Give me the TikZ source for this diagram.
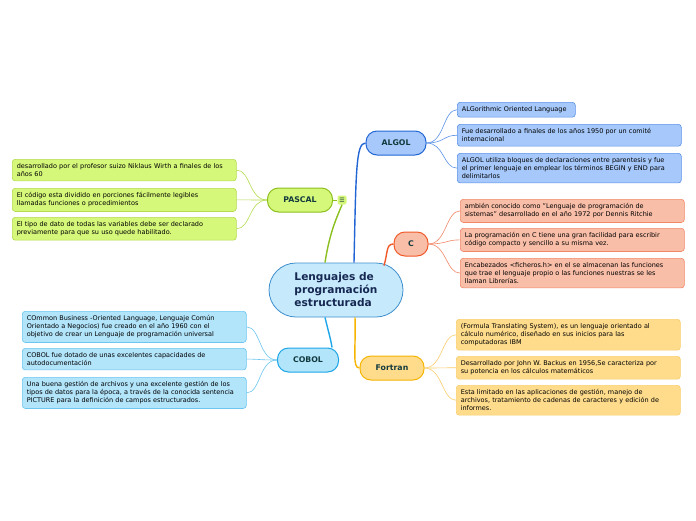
\documentclass[tikz,border=0pt]{standalone}
\usepackage{fontspec}
\setmainfont{DejaVu Sans}
\usetikzlibrary{positioning, calc}
\definecolor{CentroFondo}{RGB}{198,234,252}
\definecolor{CentroBorde}{RGB}{62,142,204}
\definecolor{TextoCentro}{RGB}{22,40,82}
\definecolor{TextoTema}{RGB}{18,58,62}
\definecolor{AlgolBorde}{RGB}{34,102,214}
\definecolor{AlgolFondo}{RGB}{166,200,250}
\definecolor{AlgolHoja}{RGB}{92,146,232}
\definecolor{CBorde}{RGB}{240,90,40}
\definecolor{CFondo}{RGB}{249,190,168}
\definecolor{CHoja}{RGB}{242,136,104}
\definecolor{FortranBorde}{RGB}{246,180,0}
\definecolor{FortranFondo}{RGB}{254,220,140}
\definecolor{FortranHoja}{RGB}{250,206,110}
\definecolor{PascalBorde}{RGB}{140,192,30}
\definecolor{PascalFondo}{RGB}{213,247,122}
\definecolor{PascalHoja}{RGB}{180,220,80}
\definecolor{CobolBorde}{RGB}{28,166,232}
\definecolor{CobolFondo}{RGB}{178,228,250}
\definecolor{CobolHoja}{RGB}{108,198,240}

\begin{document}
\begin{tikzpicture}[x=1pt, y=-1pt, font=\fontsize{6.5}{8}\selectfont,
  tema/.style 2 args={rectangle, rounded corners=11pt, draw=#1, fill=#2, line width=1pt, minimum height=24pt, font=\fontsize{7.8}{9}\selectfont\bfseries, text=TextoTema},
  hoja/.style 2 args={rectangle, rounded corners=3pt, draw=#1, fill=#2, line width=0.6pt, anchor=north west, text width=215pt, align=left, inner xsep=4.5pt, inner ysep=4.3pt},
  rama/.style={line width=1.4pt, draw=#1},
  enlace/.style={line width=0.6pt, draw=#1}]
  \useasboundingbox[fill=white] (0,0) rectangle (696,520);

  % tema central
  \node[rectangle, rounded corners=27pt, draw=CentroBorde, fill=CentroFondo, line width=0.8pt, minimum width=134pt, minimum height=54pt, align=left, text=TextoCentro, font=\fontsize{10.6}{13}\selectfont\bfseries] (centro) at (336,290) {Lenguajes de\\programación\\estructurada};

  % temas principales
  \node[tema={AlgolBorde}{AlgolFondo}, minimum width=60pt] (algol) at (396,143) {ALGOL};
  \node[tema={CBorde}{CFondo}, minimum width=34pt] (c) at (411,244) {C};
  \node[tema={FortranBorde}{FortranFondo}, minimum width=64pt] (fortran) at (392,368) {Fortran};
  \node[tema={PascalBorde}{PascalFondo}, minimum width=65pt] (pascal) at (300,200) {PASCAL};
  \node[tema={CobolBorde}{CobolFondo}, minimum width=61pt] (cobol) at (308,360) {COBOL};
  \node[rectangle, rounded corners=2pt, fill=PascalFondo, minimum size=9pt, inner sep=0pt, text=TextoTema, font=\fontsize{6}{6}\selectfont] (menu) at (342,200) {☰};

  \draw[rama=AlgolBorde] ($(centro.north)+(18,0)$) .. controls (356,170) and (356,143) .. (algol.west);
  \draw[rama=CBorde] ($(centro.north)+(48,3)$) .. controls (388,252) and (386,244) .. (c.west);
  \draw[rama=FortranBorde] ($(centro.south)+(19,0)$) .. controls (356,350) and (352,368) .. (fortran.west);
  \draw[rama=PascalBorde] ($(centro.north)+(-11,0)$) .. controls (330,230) and (338,215) .. (menu.south);
  \draw[rama=CobolBorde] ($(centro.south)+(-11,0)$) .. controls (328,330) and (331,340) .. ($(cobol.north)+(24,0)$);
  \draw[enlace=PascalBorde] (pascal.east) -- (menu.west);

  % ALGOL
  \node[hoja={AlgolHoja}{AlgolFondo}, text width=109pt] (a1) at (457,102) {ALGorithmic Oriented Language};
  \node[hoja={AlgolHoja}{AlgolFondo}] (a2) at (457,124) {Fue desarrollado a finales de los años 1950 por un comité\\internacional};
  \node[hoja={AlgolHoja}{AlgolFondo}] (a3) at (457,153) {ALGOL utiliza bloques de declaraciones entre parentesis y fue\\el primer lenguaje en emplear los términos BEGIN y END para\\delimitarlos};

  % C
  \node[hoja={CHoja}{CFondo}] (c1) at (460,199) {ambién conocido como "Lenguaje de programación de\\sistemas" desarrollado en el año 1972 por Dennis Ritchie};
  \node[hoja={CHoja}{CFondo}] (c2) at (460,228) {La programación en C tiene una gran facilidad para escribir\\código compacto y sencillo a su misma vez.};
  \node[hoja={CHoja}{CFondo}] (c3) at (460,258) {Encabezados <ficheros.h> en el se almacenan las funciones\\que trae el lenguaje propio o las funciones nuestras se les\\llaman Librerías.};

  % Fortran
  \node[hoja={FortranHoja}{FortranFondo}] (f1) at (456,319) {(Formula Translating System), es un lenguaje orientado al\\cálculo numérico, diseñado en sus inicios para las\\computadoras IBM};
  \node[hoja={FortranHoja}{FortranFondo}] (f2) at (456,356) {Desarrollado por John W. Backus en 1956,Se caracteriza por\\su potencia en los cálculos matemáticos};
  \node[hoja={FortranHoja}{FortranFondo}] (f3) at (456,385) {Esta limitado en las aplicaciones de gestión, manejo de\\archivos, tratamiento de cadenas de caracteres y edición de\\informes.};

  % PASCAL
  \node[hoja={PascalHoja}{PascalFondo}] (p1) at (12,159) {desarrollado por el profesor suizo Niklaus Wirth a finales de los\\años 60};
  \node[hoja={PascalHoja}{PascalFondo}] (p2) at (12,188) {El código esta dividido en porciones fácilmente legibles\\llamadas funciones o procedimientos};
  \node[hoja={PascalHoja}{PascalFondo}] (p3) at (12,217) {El tipo de dato de todas las variables debe ser declarado\\previamente para que su uso quede habilitado.};

  % COBOL
  \node[hoja={CobolHoja}{CobolFondo}] (k1) at (22,311) {COmmon Business -Oriented Language, Lenguaje Común\\Orientado a Negocios) fue creado en el año 1960 con el\\objetivo de crear un Lenguaje de programación universal};
  \node[hoja={CobolHoja}{CobolFondo}] (k2) at (22,348) {COBOL fue dotado de unas excelentes capacidades de\\autodocumentación};
  \node[hoja={CobolHoja}{CobolFondo}] (k3) at (22,377) {Una buena gestión de archivos y una excelente gestión de los\\tipos de datos para la época, a través de la conocida sentencia\\PICTURE para la definición de campos estructurados.};

  \foreach \h in {a1,a2,a3}
    \draw[enlace=AlgolHoja] (algol.east) .. controls +(18,0) and +(-14,0) .. (\h.west);
  \foreach \h in {c1,c2,c3}
    \draw[enlace=CHoja] (c.east) .. controls +(18,0) and +(-14,0) .. (\h.west);
  \foreach \h in {f1,f2,f3}
    \draw[enlace=FortranHoja] (fortran.east) .. controls +(18,0) and +(-14,0) .. (\h.west);
  \foreach \h in {p1,p2,p3}
    \draw[enlace=PascalHoja] (pascal.west) .. controls +(-18,0) and +(14,0) .. (\h.east);
  \foreach \h in {k1,k2,k3}
    \draw[enlace=CobolHoja] (cobol.west) .. controls +(-18,0) and +(14,0) .. (\h.east);
\end{tikzpicture}
\end{document}
